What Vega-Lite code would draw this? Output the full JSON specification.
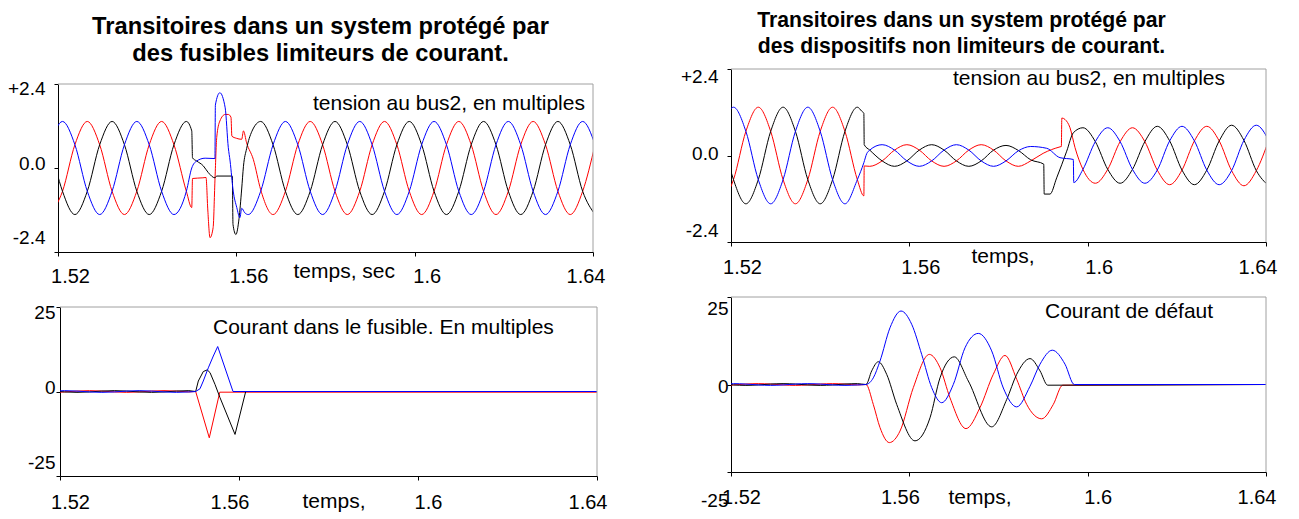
{
"$schema":"https://vega.github.io/schema/vega-lite/v6.json",
"padding":{"left":7,"top":9,"right":5,"bottom":0},
"background":"white",
"config":{
"view":{"stroke":null},
"font":"Liberation Sans",
"axis":{"grid":false,"domainColor":"#000","tickColor":"#000","labelColor":"#000","titleColor":"#000","labelFont":"Liberation Sans","titleFont":"Liberation Sans","titleFontWeight":"normal","titleFontSize":21,"tickSize":4,"labelFlush":false,"labelOverlap":false,"labelBound":false,"domainWidth":1},
"title":{"font":"Liberation Sans","fontWeight":"bold","color":"#000"}
},
"datasets":{
"tl":[
{"t":1.51824,"s":"r","v":-1.33},{"t":1.52101,"s":"r","v":-0.665},{"t":1.52379,"s":"r","v":0.665},{"t":1.52657,"s":"r","v":1.33},{"t":1.52935,"s":"r","v":0.665},{"t":1.53213,"s":"r","v":-0.665},{"t":1.5349,"s":"r","v":-1.33},{"t":1.53768,"s":"r","v":-0.665},{"t":1.54046,"s":"r","v":0.665},{"t":1.54324,"s":"r","v":1.33},{"t":1.54601,"s":"r","v":0.665},{"t":1.54879,"s":"r","v":-0.665},
{"t":1.55,"s":"r","v":-1.13},{"t":1.55017,"s":"r","v":-0.3},{"t":1.5525,"s":"r","v":-0.28},{"t":1.5532,"s":"r","v":-0.27},{"t":1.5536,"s":"r","v":-1.2},{"t":1.5541,"s":"r","v":-1.99},{"t":1.5548,"s":"r","v":-1.7},{"t":1.5552,"s":"r","v":-0.37},{"t":1.5556,"s":"r","v":0.87},{"t":1.5563,"s":"r","v":1.34},{"t":1.5575,"s":"r","v":1.53},{"t":1.5582,"s":"r","v":1.53},{"t":1.5588,"s":"r","v":1.45},{"t":1.559,"s":"r","v":0.91},{"t":1.56,"s":"r","v":0.85},{"t":1.5612,"s":"r","v":0.82},{"t":1.5616,"s":"r","v":1.06},{"t":1.5623,"s":"r","v":0.72},{"t":1.5638,"s":"r","v":0.25},{"t":1.56546,"s":"r","v":-0.62},
{"t":1.56824,"s":"r","v":-1.33},{"t":1.57101,"s":"r","v":-0.665},{"t":1.57379,"s":"r","v":0.665},{"t":1.57657,"s":"r","v":1.33},{"t":1.57935,"s":"r","v":0.665},{"t":1.58213,"s":"r","v":-0.665},{"t":1.5849,"s":"r","v":-1.33},{"t":1.58768,"s":"r","v":-0.665},{"t":1.59046,"s":"r","v":0.665},{"t":1.59324,"s":"r","v":1.33},{"t":1.59601,"s":"r","v":0.665},{"t":1.59879,"s":"r","v":-0.665},{"t":1.60157,"s":"r","v":-1.33},{"t":1.60435,"s":"r","v":-0.665},{"t":1.60713,"s":"r","v":0.665},{"t":1.6099,"s":"r","v":1.33},{"t":1.61268,"s":"r","v":0.665},{"t":1.61546,"s":"r","v":-0.665},{"t":1.61824,"s":"r","v":-1.33},{"t":1.62101,"s":"r","v":-0.665},{"t":1.62379,"s":"r","v":0.665},{"t":1.62657,"s":"r","v":1.33},{"t":1.62935,"s":"r","v":0.665},{"t":1.63213,"s":"r","v":-0.665},{"t":1.6349,"s":"r","v":-1.33},{"t":1.63768,"s":"r","v":-0.665},{"t":1.64046,"s":"r","v":0.665},
{"t":1.51824,"s":"k","v":0.665},{"t":1.52101,"s":"k","v":-0.665},{"t":1.52379,"s":"k","v":-1.33},{"t":1.52657,"s":"k","v":-0.665},{"t":1.52935,"s":"k","v":0.665},{"t":1.53213,"s":"k","v":1.33},{"t":1.5349,"s":"k","v":0.665},{"t":1.53768,"s":"k","v":-0.665},{"t":1.54046,"s":"k","v":-1.33},{"t":1.54324,"s":"k","v":-0.665},{"t":1.54601,"s":"k","v":0.665},{"t":1.54879,"s":"k","v":1.33},
{"t":1.55,"s":"k","v":1.06},{"t":1.55017,"s":"k","v":0.29},{"t":1.5511,"s":"k","v":0.2},{"t":1.5526,"s":"k","v":0.06},{"t":1.5537,"s":"k","v":-0.13},{"t":1.5552,"s":"k","v":-0.28},{"t":1.5556,"s":"k","v":-0.23},{"t":1.5591,"s":"k","v":-0.23},{"t":1.55925,"s":"k","v":-1.61},{"t":1.5599,"s":"k","v":-1.9},{"t":1.5606,"s":"k","v":-1.45},{"t":1.5612,"s":"k","v":-0.6},{"t":1.5616,"s":"k","v":0.05},{"t":1.5623,"s":"k","v":0.55},{"t":1.5635,"s":"k","v":1.05},
{"t":1.56546,"s":"k","v":1.33},{"t":1.56824,"s":"k","v":0.665},{"t":1.57101,"s":"k","v":-0.665},{"t":1.57379,"s":"k","v":-1.33},{"t":1.57657,"s":"k","v":-0.665},{"t":1.57935,"s":"k","v":0.665},{"t":1.58213,"s":"k","v":1.33},{"t":1.5849,"s":"k","v":0.665},{"t":1.58768,"s":"k","v":-0.665},{"t":1.59046,"s":"k","v":-1.33},{"t":1.59324,"s":"k","v":-0.665},{"t":1.59601,"s":"k","v":0.665},{"t":1.59879,"s":"k","v":1.33},{"t":1.60157,"s":"k","v":0.665},{"t":1.60435,"s":"k","v":-0.665},{"t":1.60713,"s":"k","v":-1.33},{"t":1.6099,"s":"k","v":-0.665},{"t":1.61268,"s":"k","v":0.665},{"t":1.61546,"s":"k","v":1.33},{"t":1.61824,"s":"k","v":0.665},{"t":1.62101,"s":"k","v":-0.665},{"t":1.62379,"s":"k","v":-1.33},{"t":1.62657,"s":"k","v":-0.665},{"t":1.62935,"s":"k","v":0.665},{"t":1.63213,"s":"k","v":1.33},{"t":1.6349,"s":"k","v":0.665},{"t":1.63768,"s":"k","v":-0.665},{"t":1.64046,"s":"k","v":-1.33},
{"t":1.51824,"s":"b","v":0.665},{"t":1.52101,"s":"b","v":1.33},{"t":1.52379,"s":"b","v":0.665},{"t":1.52657,"s":"b","v":-0.665},{"t":1.52935,"s":"b","v":-1.33},{"t":1.53213,"s":"b","v":-0.665},{"t":1.5349,"s":"b","v":0.665},{"t":1.53768,"s":"b","v":1.33},{"t":1.54046,"s":"b","v":0.665},{"t":1.54324,"s":"b","v":-0.665},{"t":1.54601,"s":"b","v":-1.33},{"t":1.54879,"s":"b","v":-0.665},
{"t":1.55,"s":"b","v":0.0},{"t":1.5511,"s":"b","v":0.2},{"t":1.553,"s":"b","v":0.28},{"t":1.5552,"s":"b","v":0.27},{"t":1.5553,"s":"b","v":1.8},{"t":1.5563,"s":"b","v":2.15},{"t":1.5575,"s":"b","v":1.72},{"t":1.5582,"s":"b","v":0.58},{"t":1.5586,"s":"b","v":0.2},{"t":1.5593,"s":"b","v":-0.66},{"t":1.5601,"s":"b","v":-1.13},{"t":1.5608,"s":"b","v":-1.42},{"t":1.5612,"s":"b","v":-1.15},{"t":1.5619,"s":"b","v":-1.28},
{"t":1.56268,"s":"b","v":-1.33},{"t":1.56546,"s":"b","v":-0.665},{"t":1.56824,"s":"b","v":0.665},{"t":1.57101,"s":"b","v":1.33},{"t":1.57379,"s":"b","v":0.665},{"t":1.57657,"s":"b","v":-0.665},{"t":1.57935,"s":"b","v":-1.33},{"t":1.58213,"s":"b","v":-0.665},{"t":1.5849,"s":"b","v":0.665},{"t":1.58768,"s":"b","v":1.33},{"t":1.59046,"s":"b","v":0.665},{"t":1.59324,"s":"b","v":-0.665},{"t":1.59601,"s":"b","v":-1.33},{"t":1.59879,"s":"b","v":-0.665},{"t":1.60157,"s":"b","v":0.665},{"t":1.60435,"s":"b","v":1.33},{"t":1.60713,"s":"b","v":0.665},{"t":1.6099,"s":"b","v":-0.665},{"t":1.61268,"s":"b","v":-1.33},{"t":1.61546,"s":"b","v":-0.665},{"t":1.61824,"s":"b","v":0.665},{"t":1.62101,"s":"b","v":1.33},{"t":1.62379,"s":"b","v":0.665},{"t":1.62657,"s":"b","v":-0.665},{"t":1.62935,"s":"b","v":-1.33},{"t":1.63213,"s":"b","v":-0.665},{"t":1.6349,"s":"b","v":0.665},{"t":1.63768,"s":"b","v":1.33},{"t":1.64046,"s":"b","v":0.665}
],
"bl":[
{"t":1.52,"s":"r","v":-0.2},{"t":1.52101,"s":"r","v":-0.125},{"t":1.52379,"s":"r","v":0.125},{"t":1.52657,"s":"r","v":0.25},{"t":1.52935,"s":"r","v":0.125},{"t":1.53213,"s":"r","v":-0.125},{"t":1.5349,"s":"r","v":-0.25},{"t":1.53768,"s":"r","v":-0.125},{"t":1.54046,"s":"r","v":0.125},{"t":1.54324,"s":"r","v":0.25},{"t":1.54601,"s":"r","v":0.125},{"t":1.54879,"s":"r","v":-0.125},{"t":1.55032,"s":"r","v":0},{"t":1.55336,"s":"r","v":-13.7},{"t":1.5557,"s":"r","v":-0.2},{"t":1.64,"s":"r","v":-0.2},
{"t":1.52,"s":"k","v":0},{"t":1.52101,"s":"k","v":-0.125},{"t":1.52379,"s":"k","v":-0.25},{"t":1.52657,"s":"k","v":-0.125},{"t":1.52935,"s":"k","v":0.125},{"t":1.53213,"s":"k","v":0.25},{"t":1.5349,"s":"k","v":0.125},{"t":1.53768,"s":"k","v":-0.125},{"t":1.54046,"s":"k","v":-0.25},{"t":1.54324,"s":"k","v":-0.125},{"t":1.54601,"s":"k","v":0.125},{"t":1.54879,"s":"k","v":0.25},{"t":1.55032,"s":"k","v":0},{"t":1.55091,"s":"k","v":3.1},{"t":1.55202,"s":"k","v":5.9},{"t":1.5529,"s":"k","v":6.4},{"t":1.55352,"s":"k","v":5.6},{"t":1.55464,"s":"k","v":2.1},{"t":1.55575,"s":"k","v":-1.8},{"t":1.55911,"s":"k","v":-12.7},{"t":1.5615,"s":"k","v":0},{"t":1.64,"s":"k","v":0},
{"t":1.52,"s":"b","v":0.2},{"t":1.52101,"s":"b","v":0.25},{"t":1.52379,"s":"b","v":0.125},{"t":1.52657,"s":"b","v":-0.125},{"t":1.52935,"s":"b","v":-0.25},{"t":1.53213,"s":"b","v":-0.125},{"t":1.5349,"s":"b","v":0.125},{"t":1.53768,"s":"b","v":0.25},{"t":1.54046,"s":"b","v":0.125},{"t":1.54324,"s":"b","v":-0.125},{"t":1.54601,"s":"b","v":-0.25},{"t":1.54879,"s":"b","v":-0.125},{"t":1.55032,"s":"b","v":0},{"t":1.55128,"s":"b","v":0.8},{"t":1.55202,"s":"b","v":3.1},{"t":1.55314,"s":"b","v":7},{"t":1.55426,"s":"b","v":10.5},{"t":1.55524,"s":"b","v":13.3},{"t":1.55866,"s":"b","v":0},{"t":1.64,"s":"b","v":0}
],
"tr":[
{"t":1.51779,"s":"r","v":-1.34},{"t":1.52056,"s":"r","v":-0.67},{"t":1.52334,"s":"r","v":0.67},{"t":1.52612,"s":"r","v":1.34},{"t":1.5289,"s":"r","v":0.67},{"t":1.53168,"s":"r","v":-0.67},{"t":1.53445,"s":"r","v":-1.34},{"t":1.53723,"s":"r","v":-0.67},{"t":1.54001,"s":"r","v":0.67},{"t":1.54279,"s":"r","v":1.34},{"t":1.54556,"s":"r","v":0.67},{"t":1.54834,"s":"r","v":-0.67},{"t":1.5498,"s":"r","v":-1.12},{"t":1.54988,"s":"r","v":-0.29},
{"t":1.55112,"s":"r","v":-0.3},{"t":1.5539,"s":"r","v":-0.15},{"t":1.55668,"s":"r","v":0.15},{"t":1.55945,"s":"r","v":0.3},{"t":1.56223,"s":"r","v":0.15},{"t":1.56501,"s":"r","v":-0.15},{"t":1.56779,"s":"r","v":-0.3},{"t":1.57056,"s":"r","v":-0.15},{"t":1.57334,"s":"r","v":0.15},{"t":1.57612,"s":"r","v":0.3},{"t":1.5789,"s":"r","v":0.15},{"t":1.58168,"s":"r","v":-0.15},{"t":1.58445,"s":"r","v":-0.3},{"t":1.58723,"s":"r","v":-0.15},{"t":1.59001,"s":"r","v":0.06},{"t":1.5938,"s":"r","v":0.24},{"t":1.5941,"s":"r","v":0.25},{"t":1.5942,"s":"r","v":1.04},{"t":1.59492,"s":"r","v":1.0},{"t":1.59604,"s":"r","v":0.77},{"t":1.59716,"s":"r","v":0.22},
{"t":1.59894,"s":"r","v":-0.385},{"t":1.60172,"s":"r","v":-0.77},{"t":1.6045,"s":"r","v":-0.385},{"t":1.60728,"s":"r","v":0.385},{"t":1.61005,"s":"r","v":0.77},{"t":1.61283,"s":"r","v":0.385},{"t":1.61561,"s":"r","v":-0.405},{"t":1.61839,"s":"r","v":-0.81},{"t":1.62116,"s":"r","v":-0.405},{"t":1.62394,"s":"r","v":0.405},{"t":1.62672,"s":"r","v":0.81},{"t":1.6295,"s":"r","v":0.405},{"t":1.63228,"s":"r","v":-0.42},{"t":1.63505,"s":"r","v":-0.84},{"t":1.63783,"s":"r","v":-0.42},{"t":1.64061,"s":"r","v":0.42},
{"t":1.51779,"s":"k","v":0.67},{"t":1.52056,"s":"k","v":-0.67},{"t":1.52334,"s":"k","v":-1.34},{"t":1.52612,"s":"k","v":-0.67},{"t":1.5289,"s":"k","v":0.67},{"t":1.53168,"s":"k","v":1.34},{"t":1.53445,"s":"k","v":0.67},{"t":1.53723,"s":"k","v":-0.67},{"t":1.54001,"s":"k","v":-1.34},{"t":1.54279,"s":"k","v":-0.67},{"t":1.54556,"s":"k","v":0.67},{"t":1.54834,"s":"k","v":1.34},{"t":1.54932,"s":"k","v":1.23},{"t":1.5498,"s":"k","v":1.17},{"t":1.54988,"s":"k","v":0.3},
{"t":1.55112,"s":"k","v":0.15},{"t":1.5539,"s":"k","v":-0.15},{"t":1.55668,"s":"k","v":-0.3},{"t":1.55945,"s":"k","v":-0.15},{"t":1.56223,"s":"k","v":0.15},{"t":1.56501,"s":"k","v":0.3},{"t":1.56779,"s":"k","v":0.15},{"t":1.57056,"s":"k","v":-0.15},{"t":1.57334,"s":"k","v":-0.3},{"t":1.57612,"s":"k","v":-0.15},{"t":1.5789,"s":"k","v":0.15},{"t":1.58168,"s":"k","v":0.28},{"t":1.58445,"s":"k","v":0.14},{"t":1.58723,"s":"k","v":-0.12},{"t":1.59015,"s":"k","v":-0.24},{"t":1.59025,"s":"k","v":-1.07},{"t":1.59155,"s":"k","v":-1.07},{"t":1.59305,"s":"k","v":-0.62},{"t":1.5953,"s":"k","v":0.12},{"t":1.59678,"s":"k","v":0.63},
{"t":1.59894,"s":"k","v":0.77},{"t":1.60172,"s":"k","v":0.385},{"t":1.6045,"s":"k","v":-0.385},{"t":1.60728,"s":"k","v":-0.77},{"t":1.61005,"s":"k","v":-0.385},{"t":1.61283,"s":"k","v":0.385},{"t":1.61561,"s":"k","v":0.81},{"t":1.61839,"s":"k","v":0.405},{"t":1.62116,"s":"k","v":-0.405},{"t":1.62394,"s":"k","v":-0.81},{"t":1.62672,"s":"k","v":-0.405},{"t":1.6295,"s":"k","v":0.405},{"t":1.63228,"s":"k","v":0.84},{"t":1.63505,"s":"k","v":0.42},{"t":1.63783,"s":"k","v":-0.42},{"t":1.64061,"s":"k","v":-0.84},
{"t":1.51779,"s":"b","v":0.67},{"t":1.52056,"s":"b","v":1.34},{"t":1.52334,"s":"b","v":0.67},{"t":1.52612,"s":"b","v":-0.67},{"t":1.5289,"s":"b","v":-1.34},{"t":1.53168,"s":"b","v":-0.67},{"t":1.53445,"s":"b","v":0.67},{"t":1.53723,"s":"b","v":1.34},{"t":1.54001,"s":"b","v":0.67},{"t":1.54279,"s":"b","v":-0.67},{"t":1.54556,"s":"b","v":-1.34},{"t":1.54834,"s":"b","v":-0.67},{"t":1.5498,"s":"b","v":-0.2},{"t":1.55044,"s":"b","v":0.05},
{"t":1.55112,"s":"b","v":0.15},{"t":1.5539,"s":"b","v":0.3},{"t":1.55668,"s":"b","v":0.15},{"t":1.55945,"s":"b","v":-0.15},{"t":1.56223,"s":"b","v":-0.3},{"t":1.56501,"s":"b","v":-0.15},{"t":1.56779,"s":"b","v":0.15},{"t":1.57056,"s":"b","v":0.3},{"t":1.57334,"s":"b","v":0.15},{"t":1.57612,"s":"b","v":-0.15},{"t":1.5789,"s":"b","v":-0.3},{"t":1.58168,"s":"b","v":-0.15},{"t":1.58445,"s":"b","v":0.13},{"t":1.58723,"s":"b","v":0.25},{"t":1.59081,"s":"b","v":0.2},{"t":1.59379,"s":"b","v":-0.06},{"t":1.59678,"s":"b","v":-0.11},{"t":1.59688,"s":"b","v":-0.75},
{"t":1.59894,"s":"b","v":-0.385},{"t":1.60172,"s":"b","v":0.385},{"t":1.6045,"s":"b","v":0.77},{"t":1.60728,"s":"b","v":0.385},{"t":1.61005,"s":"b","v":-0.385},{"t":1.61283,"s":"b","v":-0.77},{"t":1.61561,"s":"b","v":-0.405},{"t":1.61839,"s":"b","v":0.405},{"t":1.62116,"s":"b","v":0.81},{"t":1.62394,"s":"b","v":0.405},{"t":1.62672,"s":"b","v":-0.405},{"t":1.6295,"s":"b","v":-0.81},{"t":1.63228,"s":"b","v":-0.42},{"t":1.63505,"s":"b","v":0.42},{"t":1.63783,"s":"b","v":0.84},{"t":1.64061,"s":"b","v":0.42}
],
"br":[
{"t":1.52,"s":"r","v":-0.2},{"t":1.52056,"s":"r","v":-0.125},{"t":1.52334,"s":"r","v":0.125},{"t":1.52612,"s":"r","v":0.25},{"t":1.5289,"s":"r","v":0.125},{"t":1.53168,"s":"r","v":-0.125},{"t":1.53445,"s":"r","v":-0.25},{"t":1.53723,"s":"r","v":-0.125},{"t":1.54001,"s":"r","v":0.125},{"t":1.54279,"s":"r","v":0.25},{"t":1.54556,"s":"r","v":0.125},{"t":1.54834,"s":"r","v":-0.125},{"t":1.55028,"s":"r","v":0},{"t":1.55192,"s":"r","v":-5.7},{"t":1.55342,"s":"r","v":-12.3},{"t":1.55551,"s":"r","v":-16.6},{"t":1.55791,"s":"r","v":-13.3},{"t":1.56089,"s":"r","v":-0.9},{"t":1.56448,"s":"r","v":8.6},{"t":1.56688,"s":"r","v":4.8},{"t":1.56912,"s":"r","v":-3.8},{"t":1.57271,"s":"r","v":-12.6},{"t":1.57585,"s":"r","v":-6.6},{"t":1.57883,"s":"r","v":2.9},{"t":1.58146,"s":"r","v":8.3},{"t":1.58408,"s":"r","v":1.5},{"t":1.58633,"s":"r","v":-5.7},{"t":1.58969,"s":"r","v":-9.8},{"t":1.59229,"s":"r","v":-5.7},{"t":1.5944,"s":"r","v":-0.2},{"t":1.64,"s":"r","v":0},
{"t":1.52,"s":"k","v":0},{"t":1.52056,"s":"k","v":-0.125},{"t":1.52334,"s":"k","v":-0.25},{"t":1.52612,"s":"k","v":-0.125},{"t":1.5289,"s":"k","v":0.125},{"t":1.53168,"s":"k","v":0.25},{"t":1.53445,"s":"k","v":0.125},{"t":1.53723,"s":"k","v":-0.125},{"t":1.54001,"s":"k","v":-0.25},{"t":1.54279,"s":"k","v":-0.125},{"t":1.54556,"s":"k","v":0.125},{"t":1.54834,"s":"k","v":0.25},{"t":1.55028,"s":"k","v":0},{"t":1.55156,"s":"k","v":3.9},{"t":1.55304,"s":"k","v":6.5},{"t":1.55492,"s":"k","v":2.9},{"t":1.55717,"s":"k","v":-5.7},{"t":1.56127,"s":"k","v":-16.1},{"t":1.56464,"s":"k","v":-9.5},{"t":1.56688,"s":"k","v":1.9},{"t":1.57009,"s":"k","v":7.9},{"t":1.57323,"s":"k","v":1},{"t":1.57847,"s":"k","v":-12.1},{"t":1.58184,"s":"k","v":-4.3},{"t":1.58408,"s":"k","v":2.9},{"t":1.58707,"s":"k","v":7.4},{"t":1.58931,"s":"k","v":3.9},{"t":1.59104,"s":"k","v":-0.2},{"t":1.64,"s":"k","v":0},
{"t":1.52,"s":"b","v":0.2},{"t":1.52056,"s":"b","v":0.25},{"t":1.52334,"s":"b","v":0.125},{"t":1.52612,"s":"b","v":-0.125},{"t":1.5289,"s":"b","v":-0.25},{"t":1.53168,"s":"b","v":-0.125},{"t":1.53445,"s":"b","v":0.125},{"t":1.53723,"s":"b","v":0.25},{"t":1.54001,"s":"b","v":0.125},{"t":1.54279,"s":"b","v":-0.125},{"t":1.54556,"s":"b","v":-0.25},{"t":1.54834,"s":"b","v":-0.125},{"t":1.55028,"s":"b","v":0},{"t":1.55192,"s":"b","v":1.9},{"t":1.55342,"s":"b","v":6.7},{"t":1.55566,"s":"b","v":16.2},{"t":1.55813,"s":"b","v":21},{"t":1.56053,"s":"b","v":17.2},{"t":1.56277,"s":"b","v":8.6},{"t":1.56502,"s":"b","v":-0.9},{"t":1.56726,"s":"b","v":-5.2},{"t":1.56986,"s":"b","v":0},{"t":1.57249,"s":"b","v":10.5},{"t":1.57547,"s":"b","v":14.6},{"t":1.57847,"s":"b","v":9.6},{"t":1.58108,"s":"b","v":-1},{"t":1.58408,"s":"b","v":-6.4},{"t":1.58707,"s":"b","v":-0.5},{"t":1.58931,"s":"b","v":5.8},{"t":1.59207,"s":"b","v":9.8},{"t":1.59492,"s":"b","v":5.8},{"t":1.597,"s":"b","v":0},{"t":1.64,"s":"b","v":0}
]
},
"columns":2,
"spacing":{"row":45,"column":134},
"bounds":"flush",
"concat":[
{
"width":535,"height":183,
"title":{"text":["Transitoires dans un system protégé par","des fusibles limiteurs de courant."],"fontSize":23.7,"lineHeight":27,"offset":3,"dx":-5,"anchor":"middle","frame":"group"},
"layer":[
{"data":{"name":"tl"},"mark":{"type":"line","interpolate":"monotone","strokeWidth":1,"clip":true},
"encoding":{
"x":{"field":"t","type":"quantitative","scale":{"domain":[1.52,1.64],"range":[0,535],"nice":false,"zero":false},
"axis":{"values":[1.52,1.56,1.6,1.64],"format":".2~f","labelFlush":false,"labelFontSize":20,"labelPadding":10,"labelOffset":12,
"labelAlign":{"condition":{"test":"datum.value > 1.62","value":"right"},"value":"center"},
"title":"temps, sec","titleX":235,"titleY":8,"titleAlign":"left","titleBaseline":"top"}},
"y":{"field":"v","type":"quantitative","scale":{"domain":[-2.4,2.4],"range":[183,15],"nice":false,"zero":false},
"axis":{"values":[-2.4,0,2.4],"labelExpr":"datum.value > 1 ? '+2.4' : datum.value == 0 ? '0.0' : '-2.4'","labelFontSize":19,"labelPadding":9,"labelOffset":-5,
"labelBaseline":{"condition":[{"test":"datum.value > 1","value":"top"},{"test":"datum.value < -1","value":"bottom"}],"value":"middle"},
"title":null}},
"color":{"field":"s","type":"nominal","scale":{"domain":["k","b","r"],"range":["#000000","#0000ff","#ff0000"]},"legend":null}
}},
{"data":{"values":[{}]},"mark":{"type":"rule","color":"#a0a0a0"},"encoding":{"x":{"datum":1.52,"type":"quantitative"},"x2":{"datum":1.64},"y":{"datum":2.4,"type":"quantitative"}}},
{"data":{"values":[{}]},"mark":{"type":"rule","color":"#a0a0a0"},"encoding":{"x":{"datum":1.64,"type":"quantitative"},"y":{"datum":-2.4,"type":"quantitative"},"y2":{"datum":2.4}}},
{"data":{"values":[{}]},"mark":{"type":"text","align":"right","baseline":"alphabetic","fontSize":21,"text":"tension au bus2, en multiples"},"encoding":{"x":{"datum":1.6382,"type":"quantitative"},"y":{"datum":1.65,"type":"quantitative"}}}
]
},
{
"width":535,"height":183,
"title":{"text":["Transitoires dans un system protégé par","des dispositifs non  limiteurs de courant."],"fontSize":21.2,"lineHeight":26,"offset":10,"dx":-37,"anchor":"middle","frame":"group"},
"layer":[
{"data":{"name":"tr"},"mark":{"type":"line","interpolate":"monotone","strokeWidth":1,"clip":true},
"encoding":{
"x":{"field":"t","type":"quantitative","scale":{"domain":[1.52,1.64],"range":[0,535],"nice":false,"zero":false},
"axis":{"values":[1.52,1.56,1.6,1.64],"format":".2~f","labelFlush":false,"offset":-10,"labelFontSize":20,"labelPadding":11,"labelOffset":11,
"labelAlign":{"condition":{"test":"datum.value > 1.62","value":"right"},"value":"center"},
"title":"temps,","titleX":240,"titleY":3,"titleAlign":"left","titleBaseline":"top"}},
"y":{"field":"v","type":"quantitative","scale":{"domain":[-2.4,2.4],"range":[173,0],"nice":false,"zero":false},
"axis":{"values":[-2.4,0,2.4],"labelExpr":"datum.value > 1 ? '+2.4' : datum.value == 0 ? '0.0' : '-2.4'","labelFontSize":19,"labelPadding":9,"labelOffset":-2,
"labelBaseline":{"condition":[{"test":"datum.value > 1","value":"top"},{"test":"datum.value < -1","value":"bottom"}],"value":"middle"},
"title":null}},
"color":{"field":"s","type":"nominal","scale":{"domain":["k","b","r"],"range":["#000000","#0000ff","#ff0000"]},"legend":null}
}},
{"data":{"values":[{}]},"mark":{"type":"rule","color":"#a0a0a0"},"encoding":{"x":{"datum":1.52,"type":"quantitative"},"x2":{"datum":1.64},"y":{"datum":2.4,"type":"quantitative"}}},
{"data":{"values":[{}]},"mark":{"type":"rule","color":"#a0a0a0"},"encoding":{"x":{"datum":1.64,"type":"quantitative"},"y":{"datum":-2.4,"type":"quantitative"},"y2":{"datum":2.4}}},
{"data":{"values":[{}]},"mark":{"type":"text","align":"right","baseline":"alphabetic","fontSize":21,"text":"tension au bus2, en multiples"},"encoding":{"x":{"datum":1.6308,"type":"quantitative"},"y":{"datum":1.95,"type":"quantitative"}}}
]
},
{
"width":539,"height":179,
"layer":[
{"data":{"name":"bl"},"mark":{"type":"line","interpolate":"linear","strokeWidth":1,"clip":true},
"encoding":{
"x":{"field":"t","type":"quantitative","scale":{"domain":[1.52,1.64],"range":[2,539],"nice":false,"zero":false},
"axis":{"values":[1.52,1.56,1.6,1.64],"format":".2~f","labelFlush":false,"labelFontSize":20,"labelPadding":12,"labelOffset":10,
"labelAlign":{"condition":{"test":"datum.value > 1.62 || (datum.value > 1.54 && datum.value < 1.58)","value":"right"},"value":"center"},
"title":"temps,","titleX":244,"titleY":14,"titleAlign":"left","titleBaseline":"top"}},
"y":{"field":"v","type":"quantitative","scale":{"domain":[-25,25],"range":[179,10],"nice":false,"zero":false},
"axis":{"values":[-25,0,25],"labelExpr":"datum.value > 1 ? '25' : datum.value == 0 ? '0' : '-25'","offset":-2,"labelFontSize":19,"labelPadding":1,"labelOffset":-4,
"labelBaseline":{"condition":[{"test":"datum.value > 1","value":"top"},{"test":"datum.value < -1","value":"bottom"}],"value":"middle"},
"title":null}},
"color":{"field":"s","type":"nominal","scale":{"domain":["k","b","r"],"range":["#000000","#0000ff","#ff0000"]},"legend":null}
}},
{"data":{"values":[{}]},"mark":{"type":"rule","color":"#a0a0a0"},"encoding":{"x":{"datum":1.52,"type":"quantitative"},"x2":{"datum":1.64},"y":{"datum":25,"type":"quantitative"}}},
{"data":{"values":[{}]},"mark":{"type":"rule","color":"#a0a0a0"},"encoding":{"x":{"datum":1.64,"type":"quantitative"},"y":{"datum":-25,"type":"quantitative"},"y2":{"datum":25}}},
{"data":{"values":[{}]},"mark":{"type":"text","align":"left","baseline":"alphabetic","fontSize":21,"text":"Courant dans le fusible. En multiples"},"encoding":{"x":{"datum":1.55419,"type":"quantitative"},"y":{"datum":16.9,"type":"quantitative"}}}
]
},
{
"width":535,"height":179,
"layer":[
{"data":{"name":"br"},"mark":{"type":"line","interpolate":"monotone","strokeWidth":1,"clip":true},
"encoding":{
"x":{"field":"t","type":"quantitative","scale":{"domain":[1.52,1.64],"range":[0,535],"nice":false,"zero":false},
"axis":{"values":[1.52,1.56,1.6,1.64],"format":".2~f","labelFlush":false,"offset":-4,"labelFontSize":20,"labelPadding":11,"labelOffset":10,
"labelAlign":{"condition":{"test":"datum.value > 1.62 || (datum.value > 1.54 && datum.value < 1.58)","value":"right"},"value":"center"},
"title":"temps,","titleX":217,"titleY":14,"titleAlign":"left","titleBaseline":"top"}},
"y":{"field":"v","type":"quantitative","scale":{"domain":[-25,25],"range":[175,0],"nice":false,"zero":false},
"axis":{"values":[-25,0,25],"labelExpr":"datum.value > 1 ? '25' : datum.value == 0 ? '0' : '-25'","labelFontSize":19,"labelPadding":-1,"labelOffset":2,"labelLineHeight":53,
"labelBaseline":{"condition":[{"test":"datum.value > 1","value":"top"},{"test":"datum.value < -1","value":"line-top"}],"value":"middle"},
"title":null}},
"color":{"field":"s","type":"nominal","scale":{"domain":["k","b","r"],"range":["#000000","#0000ff","#ff0000"]},"legend":null}
}},
{"data":{"values":[{}]},"mark":{"type":"rule","color":"#a0a0a0"},"encoding":{"x":{"datum":1.52,"type":"quantitative"},"x2":{"datum":1.64},"y":{"datum":25,"type":"quantitative"}}},
{"data":{"values":[{}]},"mark":{"type":"rule","color":"#a0a0a0"},"encoding":{"x":{"datum":1.64,"type":"quantitative"},"y":{"datum":-25,"type":"quantitative"},"y2":{"datum":25}}},
{"data":{"values":[{}]},"mark":{"type":"text","align":"left","baseline":"alphabetic","fontSize":21,"text":"Courant de défaut"},"encoding":{"x":{"datum":1.59043,"type":"quantitative"},"y":{"datum":19.1,"type":"quantitative"}}}
]
}
]
}
